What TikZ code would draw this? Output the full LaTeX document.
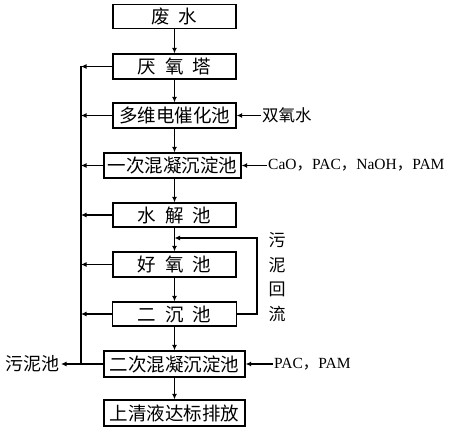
\documentclass[tikz,border=0pt]{standalone}
\usepackage{fontspec}
\setmainfont{Liberation Serif}
\newfontfamily\cjk{Noto Sans CJK SC}
\usetikzlibrary{arrows.meta}
\begin{document}
\begin{tikzpicture}[x=1pt,y=-1pt,
  box/.style={draw, line width=1.3pt, minimum height=25pt, inner sep=0pt, font=\cjk\fontsize{18.5}{18.5}\selectfont},
  lbl/.style={inner sep=1pt, font=\fontsize{15.5}{15.5}\selectfont},
  arr/.style={line width=1.3pt, -{Latex[length=5.5pt,width=5pt]}},
  ln/.style={line width=1.3pt}]
\useasboundingbox (0,0) rectangle (458,430);
\newcommand{\gp}{\hspace{9pt}}
\node[box, minimum width=123pt, minimum height=24pt] (b1) at (174.5,16.5) {废\gp 水};
\node[box, minimum width=123pt] (b2) at (174.5,66.5) {厌\gp 氧\gp 塔};
\node[box, minimum width=123pt] (b3) at (174.5,115.5) {多维电催化池};
\node[box, minimum width=137pt] (b4) at (172.5,165.5) {一次混凝沉淀池};
\node[box, minimum width=123pt, minimum height=24pt] (b5) at (174.5,215) {水\gp 解\gp 池};
\node[box, minimum width=123pt] (b6) at (174.5,264.5) {好\gp 氧\gp 池};
\node[box, minimum width=124pt, minimum height=24pt] (b7) at (174.5,314) {二\gp 沉\gp 池};
\node[box, minimum width=141pt, minimum height=26pt] (b8) at (174.5,364) {二次混凝沉淀池};
\node[box, minimum width=141pt, minimum height=26pt] (b9) at (174.5,413) {上清液达标排放};
% vertical flow
\draw[arr] (b1.south) -- (b2.north);
\draw[arr] (b2.south) -- (b3.north);
\draw[arr] (b3.south) -- (b3.south |- b4.north);
\draw[arr] (b3.south |- b4.south) -- (b5.north);
\draw[arr] (b5.south) -- (b6.north);
\draw[arr] (b6.south) -- (b7.north);
\draw[arr] (b7.south) -- (b8.north);
\draw[arr] (b8.south) -- (b9.north);
% left sludge collection line
\coordinate (Lt) at (81,66.5);
\coordinate (Lb) at (81,364);
\draw[ln] (Lt) -- (Lb);
\foreach \b in {b2,b3,b4,b5,b6,b7} \draw[arr] (\b.west) -- (\b.west -| Lt);
\node[inner sep=1pt, font=\cjk\fontsize{18}{18}\selectfont, anchor=east] (sn) at (61,364) {污泥池};
\draw[arr] (b8.west) -- (sn.east);
% right inputs
\node[inner sep=1pt, anchor=west, font=\cjk\fontsize{16.5}{16.5}\selectfont] (h2o2) at (261,115.5) {双氧水};
\draw[arr] (h2o2.west) -- (b3.east);
\node[lbl, anchor=west] (chem1) at (267,165.5) {CaO{\cjk ，}PAC{\cjk ，}NaOH{\cjk ，}PAM};
\draw[arr] (chem1.west) -- (b4.east);
\node[lbl, anchor=west] (chem2) at (273,364) {PAC{\cjk ，}PAM};
\draw[arr] (chem2.west) -- (b8.east);
% sludge return
\coordinate (R1) at (257,314);
\coordinate (R2) at (257,238);
\draw[arr] (b7.east) -- (R1) -- (R2) -- (R2 -| b5.south);
\node[inner sep=0pt, align=center, font=\cjk\fontsize{17}{24.5}\selectfont] (ret) at (277,277) {污\\泥\\回\\流};
\end{tikzpicture}
\end{document}
